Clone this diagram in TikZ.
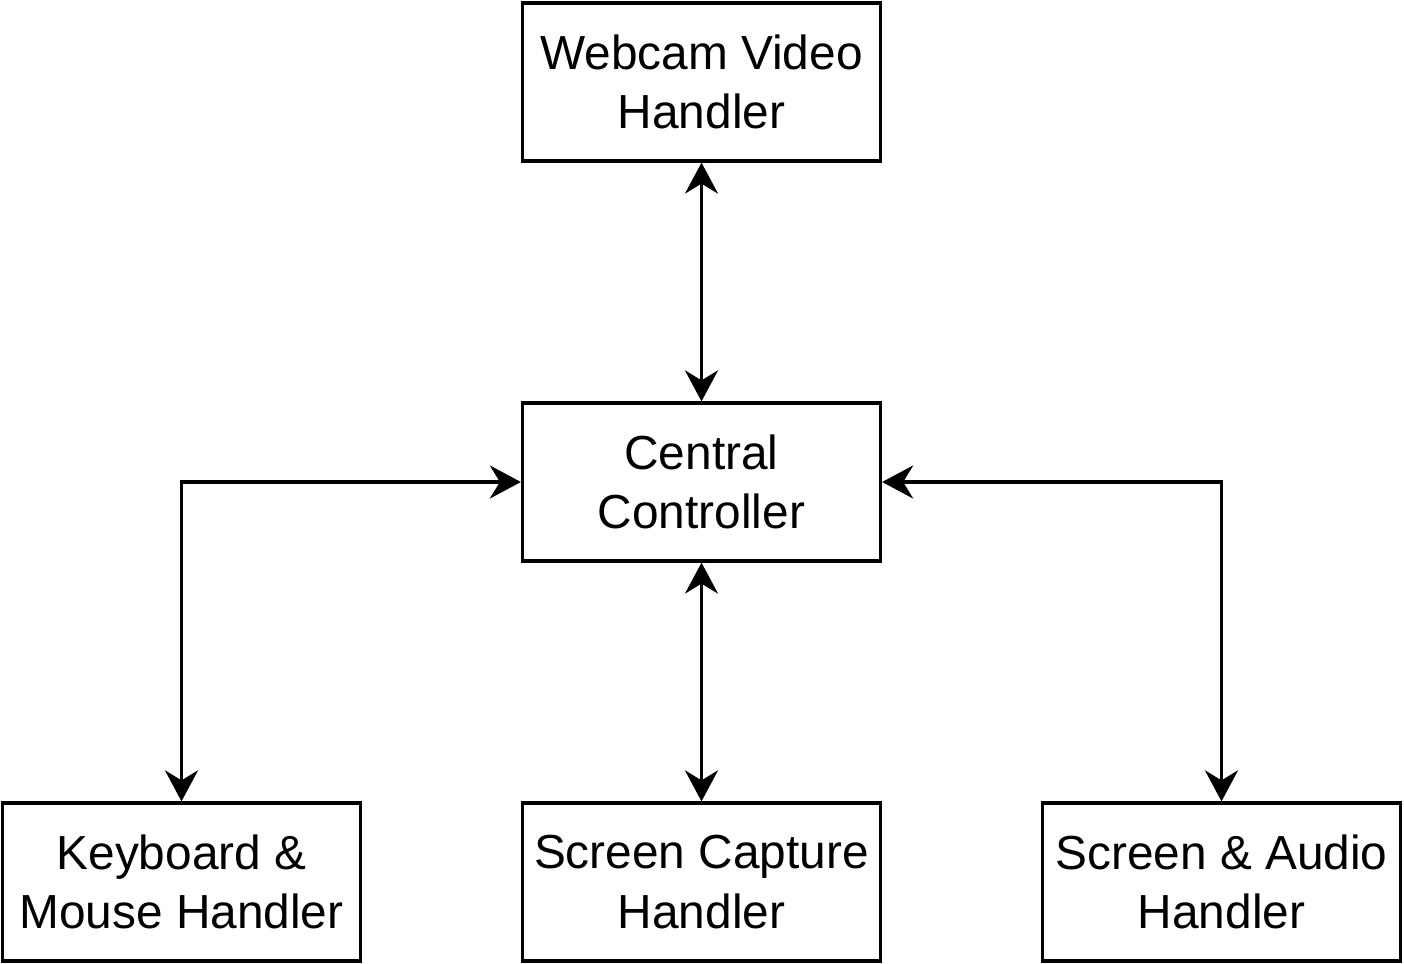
\documentclass[tikz,border=0pt]{standalone}
\usepackage{fontspec}
\setmainfont{Liberation Sans}
\usetikzlibrary{arrows.meta,positioning}

\begin{document}
\begin{tikzpicture}[
        handler/.style={
            draw,
            line width=0.065cm,
            minimum width=7.16cm,
            minimum height=3.16cm,
            inner sep=0pt,
            align=center,
            font=\fontsize{27.2}{34}\selectfont
            },
        link/.style={
            {Stealth[length=0.62cm,width=0.66cm,inset=0.2cm]}-{Stealth[length=0.62cm,width=0.66cm,inset=0.2cm]},
            line width=0.065cm
            }
    ]
                \useasboundingbox (0,0) rectangle (28.08,-19.28);

                % handlers
                \node[handler] (webcam) at (14.03,-1.64) {Webcam Video\\Handler};
                \node[handler] (central) at (14.03,-9.64) {Central\\Controller};
                \node[handler] (keyboard) at (3.63,-17.64) {Keyboard \&\\Mouse Handler};
                \node[handler] (capture) at (14.03,-17.64) {Screen Capture\\Handler};
                \node[handler] (audio) at (24.43,-17.64) {Screen \& Audio\\Handler};

                % links to the controller
                \draw[link] (webcam) -- (central);
                \draw[link] (central) -- (capture);
                \draw[link] (central.west) -| (keyboard.north);
                \draw[link] (central.east) -| (audio.north);

            \end{tikzpicture}
\end{document}
